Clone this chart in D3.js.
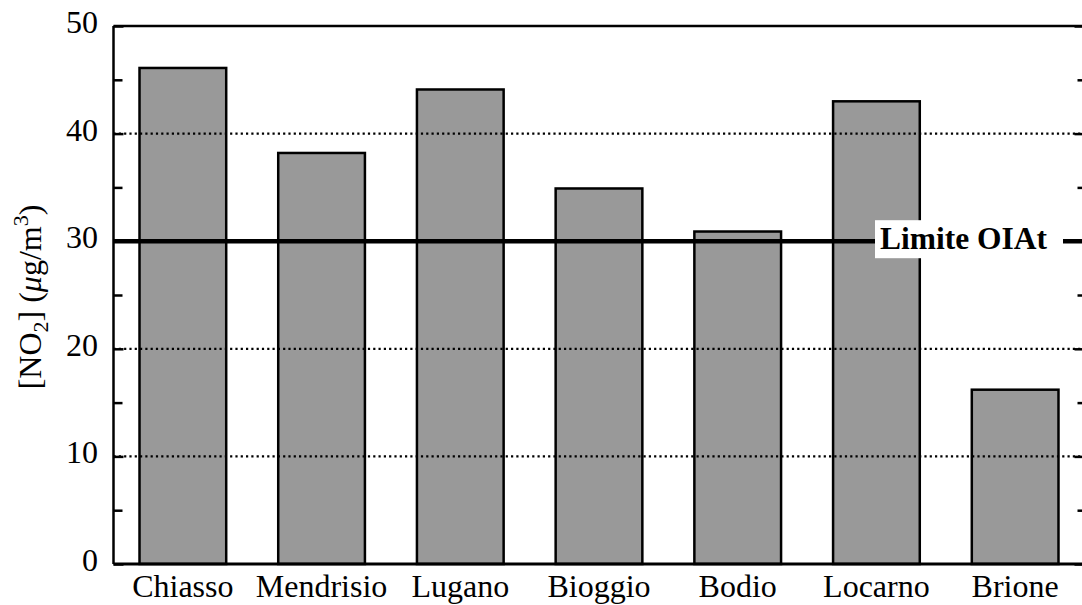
<!DOCTYPE html>
<html><head><meta charset="utf-8">
<script src="https://cdn.jsdelivr.net/npm/d3@7"></script>
<style>body{margin:0;background:#fff;} svg{display:block;}</style>
</head><body>
<svg id="c" width="1082" height="605"></svg>
<script>
const categories = ["Chiasso","Mendrisio","Lugano","Bioggio","Bodio","Locarno","Brione"];
const values = [46.1, 38.2, 44.1, 34.9, 30.9, 43.0, 16.2];
const yTicks = [0,10,20,30,40,50];
const gridTicks = [10,20,40];
const limitValue = 30;
const limitLabel = "Limite OIAt";

(function(){
const svg = d3.select("#c");
const pL = 113.5, pR = 1084.5, pT = 26, pB = 564;
const x = d3.scaleBand().domain(categories).range([pL,pR]).paddingInner(0.375).paddingOuter(0.1875);
const y = d3.scaleLinear().domain([0,50]).range([pB,pT]);
const font = "'Liberation Serif', 'Times New Roman', serif";
const fs = 32;

// bars
svg.selectAll("rect.bar").data(values).enter().append("rect")
  .attr("x",(d,i)=>x(categories[i])).attr("width",x.bandwidth())
  .attr("y",d=>y(d)).attr("height",d=>y(0)-y(d))
  .attr("fill","#999999").attr("stroke","#000").attr("stroke-width",2.5);

// gridlines (dotted)
svg.selectAll("line.grid").data(gridTicks).enter().append("line")
  .attr("x1",pL).attr("x2",pR).attr("y1",d=>y(d)).attr("y2",d=>y(d))
  .attr("stroke","#000").attr("stroke-width",2.2).attr("stroke-dasharray","2.2,3.1");

// limit line
svg.append("line").attr("x1",pL).attr("x2",pR).attr("y1",y(limitValue)).attr("y2",y(limitValue))
  .attr("stroke","#000").attr("stroke-width",4.5);
svg.append("rect").attr("x",875).attr("y",y(limitValue)-21).attr("width",188).attr("height",38).attr("fill","#fff");
svg.append("text").attr("x",880).attr("y",y(limitValue)+8).attr("font-family",font).attr("font-weight","bold")
  .attr("font-size",fs).attr("fill","#000").attr("textLength",167).attr("lengthAdjust","spacingAndGlyphs").text(limitLabel);

// frame
svg.append("line").attr("x1",pL).attr("x2",pR).attr("y1",pT).attr("y2",pT).attr("stroke","#000").attr("stroke-width",2.5);
svg.append("line").attr("x1",pL).attr("x2",pR).attr("y1",pB).attr("y2",pB).attr("stroke","#000").attr("stroke-width",3);
svg.append("line").attr("x1",pL).attr("x2",pL).attr("y1",pT).attr("y2",pB).attr("stroke","#000").attr("stroke-width",2.5);

// left axis ticks (inward)
const gL = svg.append("g").attr("transform",`translate(${pL},0)`).call(d3.axisRight(y).tickValues(yTicks).tickSize(10).tickFormat(""));
gL.select(".domain").remove();
gL.selectAll("line").attr("stroke","#000").attr("stroke-width",2.5);
const minor = d3.range(5,50,10);
const gLm = svg.append("g").attr("transform",`translate(${pL},0)`).call(d3.axisRight(y).tickValues(minor).tickSize(9).tickFormat(""));
gLm.select(".domain").remove();
gLm.selectAll("line").attr("stroke","#000").attr("stroke-width",2.5);
// right axis ticks (inward)
const gR = svg.append("g").attr("transform",`translate(${pR},0)`).call(d3.axisLeft(y).tickValues(yTicks).tickSize(10).tickFormat(""));
gR.select(".domain").remove();
gR.selectAll("line").attr("stroke","#000").attr("stroke-width",2.5);
const gRm = svg.append("g").attr("transform",`translate(${pR},0)`).call(d3.axisLeft(y).tickValues(minor).tickSize(7).tickFormat(""));
gRm.select(".domain").remove();
gRm.selectAll("line").attr("stroke","#000").attr("stroke-width",2.5);

// y tick labels
svg.selectAll("text.yl").data(yTicks).enter().append("text")
  .attr("x",98).attr("y",d=>y(d)+7).attr("text-anchor","end")
  .attr("font-family",font).attr("font-size",fs).attr("fill","#000").text(d=>d);

// x labels
svg.selectAll("text.xl").data(categories).enter().append("text")
  .attr("x",d=>x(d)+x.bandwidth()/2).attr("y",597).attr("text-anchor","middle")
  .attr("font-family",font).attr("font-size",fs).attr("fill","#000").text(d=>d);

// y axis title
const yt = svg.append("text").attr("transform","translate(41,297) rotate(-90)").attr("text-anchor","middle")
  .attr("font-family",font).attr("font-size",fs).attr("fill","#000");
yt.append("tspan").text("[NO");
yt.append("tspan").attr("font-size",22).attr("dy",7).text("2");
yt.append("tspan").attr("dy",-7).text("] (");
yt.append("tspan").attr("font-style","italic").text("μ");
yt.append("tspan").text("g/m");
yt.append("tspan").attr("font-size",22).attr("dy",-13).text("3");
yt.append("tspan").attr("dy",13).text(")");
})();
</script>
</body></html>
